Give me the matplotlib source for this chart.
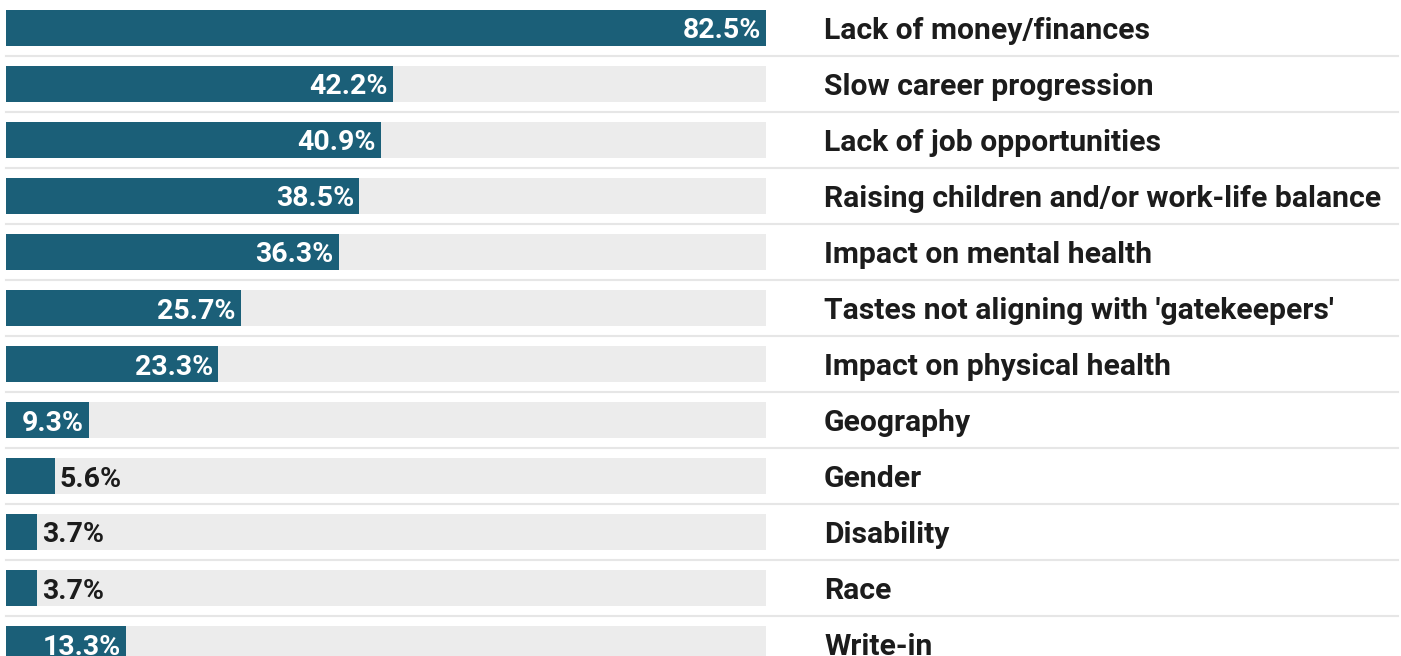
import matplotlib
matplotlib.use("Agg")
import matplotlib.pyplot as plt
import matplotlib.transforms as mtransforms

categories = [
    "Lack of money/finances",
    "Slow career progression",
    "Lack of job opportunities",
    "Raising children and/or work-life balance",
    "Impact on mental health",
    "Tastes not aligning with 'gatekeepers'",
    "Impact on physical health",
    "Geography",
    "Gender",
    "Disability",
    "Race",
    "Write-in",
]
values = [82.5, 42.2, 40.9, 38.5, 36.3, 25.7, 23.3, 9.3, 5.6, 3.7, 3.7, 13.3]

BAR_COLOR = "#1b5f78"
TRACK_COLOR = "#ececec"
RULE_COLOR = "#e6e6e6"
TEXT_COLOR = "#1c1c1c"

plt.rcParams["font.family"] = ["Roboto", "DejaVu Sans"]

W, H, DPI = 1401, 656, 100
fig = plt.figure(figsize=(W / DPI, H / DPI), dpi=DPI)
fig.patch.set_facecolor("white")

# bar area: 6px to 766px horizontally, rows 56px tall;
# the zero line sits just left of the visible area, so bars are clipped there
row_px = 56
ax = fig.add_axes([6 / W, 0, 760 / W, 1])
ax.set_xlim(0.35, max(values))
ax.set_ylim(-0.5 + H / row_px, -0.5)
ax.axis("off")

ypos = list(range(len(values)))
bar_h = 36 / row_px

# separators between rows, full width
sep_trans = mtransforms.blended_transform_factory(fig.transFigure, ax.transData)
for y in ypos[:-1]:
    ax.plot([6 / W, 1398 / W], [y + 0.5, y + 0.5], transform=sep_trans,
            color=RULE_COLOR, lw=1.5, clip_on=False, zorder=0)

ax.barh(ypos, [max(values)] * len(values), height=bar_h,
        color=TRACK_COLOR, zorder=1)
ax.barh(ypos, values, height=bar_h, color=BAR_COLOR, zorder=2)

lab_trans = mtransforms.blended_transform_factory(fig.transFigure, ax.transData)
for y, v, name in zip(ypos, values, categories):
    txt = f"{v}%"
    if v > 8:
        ax.annotate(txt, (v, y), xytext=(-5, 0), textcoords="offset pixels",
                    ha="right", va="center_baseline", color="white",
                    fontsize=20.5, fontweight="bold", zorder=3)
    else:
        ax.annotate(txt, (v, y), xytext=(5, 0), textcoords="offset pixels",
                    ha="left", va="center_baseline", color=TEXT_COLOR,
                    fontsize=20.5, fontweight="bold", zorder=3)
    ax.text(824 / W, y, name, transform=lab_trans, ha="left",
            va="center_baseline", color=TEXT_COLOR, fontsize=21.7,
            fontweight="bold", clip_on=False)

fig.savefig("out.png", dpi=DPI, facecolor="white")
